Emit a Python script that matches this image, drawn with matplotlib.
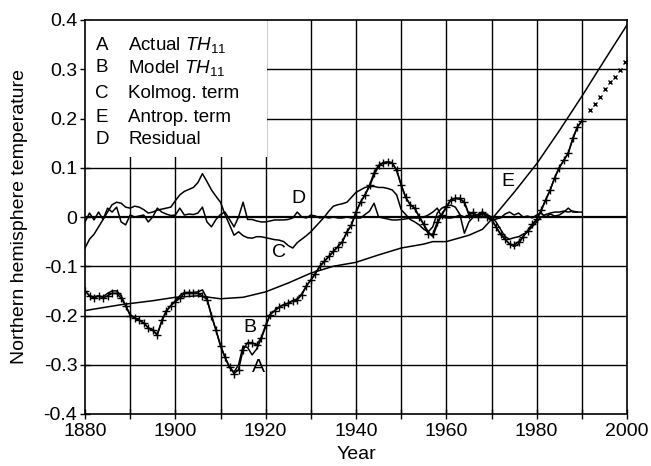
import numpy as np
import matplotlib
matplotlib.use("Agg")
import matplotlib.pyplot as plt
from matplotlib.patches import Rectangle

plt.rcParams['font.family'] = ['Liberation Sans', 'DejaVu Sans']
plt.rcParams['mathtext.fontset'] = 'custom'
plt.rcParams['mathtext.it'] = 'Liberation Sans:italic'
plt.rcParams['mathtext.rm'] = 'Liberation Sans'

# ---------------- data ----------------
years = list(range(1880, 1991))
residual_years = list(range(1880, 1990))

actual = [-0.150, -0.160, -0.165, -0.160, -0.165, -0.160, -0.155, -0.155, -0.165, -0.180,
          -0.200, -0.205, -0.210, -0.215, -0.225, -0.230, -0.240, -0.210, -0.190, -0.180,
          -0.172, -0.165, -0.155, -0.155, -0.155, -0.155, -0.160, -0.168, -0.200, -0.230,
          -0.262, -0.285, -0.305, -0.318, -0.310, -0.270, -0.255, -0.255, -0.260, -0.245,
          -0.220, -0.198, -0.190, -0.183, -0.178, -0.175, -0.170, -0.168, -0.158, -0.140,
          -0.128, -0.115, -0.100, -0.090, -0.080, -0.070, -0.060, -0.050, -0.030, -0.016,
          0.010, 0.030, 0.045, 0.065, 0.090, 0.105, 0.110, 0.112, 0.110, 0.095,
          0.065, 0.040, 0.025, 0.018, 0.000, -0.015, -0.035, -0.035, -0.010, 0.005,
          0.020, 0.035, 0.038, 0.038, 0.030, 0.005, 0.010, 0.000, 0.010, 0.000,
          -0.005, -0.020, -0.035, -0.045, -0.055, -0.057, -0.050, -0.040, -0.028, -0.015,
          -0.005, 0.015, 0.035, 0.055, 0.080, 0.100, 0.115, 0.130, 0.160, 0.183,
          0.195]

model = [-0.150, -0.160, -0.162, -0.160, -0.162, -0.155, -0.150, -0.150, -0.160, -0.180,
         -0.198, -0.205, -0.210, -0.215, -0.225, -0.230, -0.238, -0.212, -0.192, -0.180,
         -0.170, -0.160, -0.153, -0.153, -0.153, -0.152, -0.148, -0.165, -0.200, -0.230,
         -0.260, -0.285, -0.305, -0.315, -0.300, -0.262, -0.265, -0.280, -0.268, -0.248,
         -0.222, -0.198, -0.190, -0.183, -0.178, -0.175, -0.170, -0.166, -0.156, -0.140,
         -0.128, -0.115, -0.100, -0.090, -0.080, -0.070, -0.060, -0.050, -0.030, -0.016,
         0.010, 0.030, 0.045, 0.062, 0.085, 0.103, 0.110, 0.112, 0.110, 0.095,
         0.065, 0.040, 0.025, 0.018, 0.000, -0.015, -0.030, -0.040, -0.015, 0.005,
         0.020, 0.035, 0.038, 0.036, 0.030, 0.005, 0.008, 0.000, 0.008, 0.000,
         -0.005, -0.020, -0.035, -0.045, -0.055, -0.060, -0.055, -0.040, -0.028, -0.015,
         -0.005, 0.012, 0.035, 0.055, 0.080, 0.100, 0.115, 0.130, 0.158, 0.182,
         0.195]

kolmog = [-0.063, -0.045, -0.035, -0.020, -0.005, 0.010, 0.025, 0.030, 0.028, 0.020,
          0.018, 0.022, 0.020, 0.015, 0.008, 0.010, 0.014, 0.016, 0.018, 0.020,
          0.033, 0.045, 0.052, 0.056, 0.060, 0.070, 0.088, 0.072, 0.055, 0.042,
          0.030, 0.005, -0.016, -0.037, -0.030, -0.038, -0.042, -0.043, -0.040, -0.040,
          -0.042, -0.044, -0.046, -0.047, -0.050, -0.058, -0.063, -0.052, -0.045, -0.038,
          -0.030, -0.020, -0.010, 0.000, 0.012, 0.022, 0.025, 0.027, 0.030, 0.040,
          0.050, 0.055, 0.060, 0.062, 0.062, 0.060, 0.060, 0.058, 0.055, 0.045,
          0.015, 0.005, -0.005, -0.010, -0.016, -0.025, -0.030, -0.020, 0.008, 0.018,
          0.022, 0.024, 0.020, 0.005, -0.033, -0.010, 0.000, 0.005, 0.010, 0.005,
          0.000, -0.010, -0.025, -0.040, -0.045, -0.042, -0.040, -0.035, -0.030, -0.020,
          -0.010, 0.000, 0.005, 0.008, 0.010, 0.010, 0.012, 0.010, 0.012, 0.010,
          0.010]

residual = [-0.010, 0.008, -0.006, 0.010, -0.005, 0.018, 0.010, 0.020, -0.010, -0.016,
            0.004, 0.000, 0.002, 0.004, -0.010, 0.000, 0.018, 0.010, 0.006, 0.003,
            0.004, 0.018, 0.004, 0.006, 0.005, 0.008, 0.020, -0.010, -0.020, -0.005,
            0.005, 0.010, -0.005, -0.020, 0.000, 0.030, -0.005, -0.005, -0.008, -0.010,
            -0.010, -0.008, -0.006, -0.006, -0.006, -0.005, -0.002, 0.010, 0.000, -0.002,
            0.004, 0.002, -0.002, 0.000, -0.002, 0.000, -0.002, -0.002, 0.000, -0.002,
            -0.002, -0.002, 0.005, 0.012, 0.028, 0.000, -0.002, -0.004, -0.006, -0.006,
            -0.005, -0.004, -0.002, -0.002, -0.002, 0.000, 0.004, 0.010, 0.018, 0.000,
            -0.002, -0.002, 0.000, 0.004, 0.000, 0.000, 0.004, 0.000, 0.002, 0.000,
            -0.006, -0.004, -0.002, 0.006, 0.010, 0.004, 0.008, 0.000, 0.002, -0.002,
            0.004, 0.008, 0.000, 0.006, 0.002, 0.004, 0.010, 0.018, 0.010, 0.010]

antrop_years = [1880, 1888, 1895, 1900, 1905, 1910, 1915, 1920, 1925, 1930, 1935, 1940,
                1945, 1950, 1955, 1957, 1960, 1965, 1968, 1970, 1975, 1980, 1985, 1990,
                1995, 2000]
antrop = [-0.190, -0.178, -0.170, -0.163, -0.160, -0.166, -0.163, -0.152, -0.134, -0.114,
          -0.100, -0.092, -0.077, -0.063, -0.055, -0.050, -0.050, -0.037, -0.025, -0.005,
          0.050, 0.108, 0.175, 0.245, 0.318, 0.390]

extrap_years = [1991.8, 1992.9, 1994.0, 1995.2, 1996.3, 1997.4, 1998.5, 1999.6]
extrap = [0.217, 0.230, 0.244, 0.260, 0.274, 0.284, 0.298, 0.315]

legend_letters = ['A', 'B', 'C', 'E', 'D']
legend_texts = [r'Actual $\mathit{TH}_{11}$', r'Model $\mathit{TH}_{11}$', 'Kolmog. term',
                'Antrop. term', 'Residual']

xticks = [1880, 1900, 1920, 1940, 1960, 1980, 2000]
yticks = [0.4, 0.3, 0.2, 0.1, 0, -0.1, -0.2, -0.3, -0.4]
ytick_labels = ['0.4', '0.3', '0.2', '0.1', '0', '-0.1', '-0.2', '-0.3', '-0.4']

# ---------------- figure ----------------
fig = plt.figure(figsize=(6.51, 4.66), dpi=100)
ax = fig.add_axes([85/651, 1 - 414/466, (627-85)/651, (414-20)/466])

ax.set_xlim(1880, 2000)
ax.set_ylim(-0.4, 0.4)

# grid
for gx in range(1890, 2000, 10):
    ax.axvline(gx, color='black', lw=1.0, zorder=1)
for gy in [-0.3, -0.2, -0.1, 0.1, 0.2, 0.3]:
    ax.axhline(gy, color='black', lw=1.0, zorder=1)
ax.axhline(0, color='black', lw=1.6, zorder=1)

# legend white box
ax.add_patch(Rectangle((0, 0.652), 0.336, 0.348, transform=ax.transAxes,
                       facecolor='white', edgecolor='none', zorder=2))

lw = 1.1
ax.plot(antrop_years, antrop, color='black', lw=lw, zorder=3)
ax.plot(years, kolmog, color='black', lw=lw, zorder=3)
ax.plot(residual_years, residual, color='black', lw=lw, zorder=3)
ax.plot(years, model, color='black', lw=lw, zorder=3)
ax.plot(years, actual, color='black', lw=lw, marker='+', ms=6, mew=1.0, zorder=4)
ax.plot(extrap_years, extrap, linestyle='none', color='black', marker='x', ms=3.5,
        mew=1.0, zorder=4)

# curve labels
fs = 14
ax.text(1918.4, -0.306, 'A', fontsize=fs, ha='center', va='center', zorder=5)
ax.text(1916.4, -0.225, 'B', fontsize=fs, ha='center', va='center', zorder=5)
ax.text(1922.9, -0.073, 'C', fontsize=fs, ha='center', va='center', zorder=5)
ax.text(1927.3, 0.038, 'D', fontsize=fs, ha='center', va='center', zorder=5)
ax.text(1973.7, 0.072, 'E', fontsize=fs, ha='center', va='center', zorder=5)

# legend text
lfs = 13.5
leg_y_px = [45, 68, 93, 117, 140]
for let, txt, py in zip(legend_letters, legend_texts, leg_y_px):
    yy = 1 - (py - 20) / (414 - 20)
    ax.text((102 - 85) / 542, yy, let, transform=ax.transAxes, fontsize=lfs,
            ha='center', va='center', zorder=5)
    ax.text((128 - 85) / 542, yy, txt, transform=ax.transAxes, fontsize=lfs,
            ha='left', va='center', zorder=5)

ax.set_xticks(xticks)
ax.set_xticklabels([str(x) for x in xticks])
ax.set_xticks(list(range(1890, 2000, 20)), minor=True)
ax.set_yticks(yticks)
ax.set_yticklabels(ytick_labels)
ax.tick_params(axis='both', which='both', direction='inout', length=7, width=1.0,
               labelsize=14, colors='black')
ax.tick_params(axis='x', pad=3)
ax.tick_params(axis='y', pad=2)
for sp in ax.spines.values():
    sp.set_linewidth(1.2)

ax.set_xlabel('Year', fontsize=14, labelpad=4)
ax.set_ylabel('Northern hemisphere temperature', fontsize=14, labelpad=11)

fig.savefig('out.png', dpi=100)
